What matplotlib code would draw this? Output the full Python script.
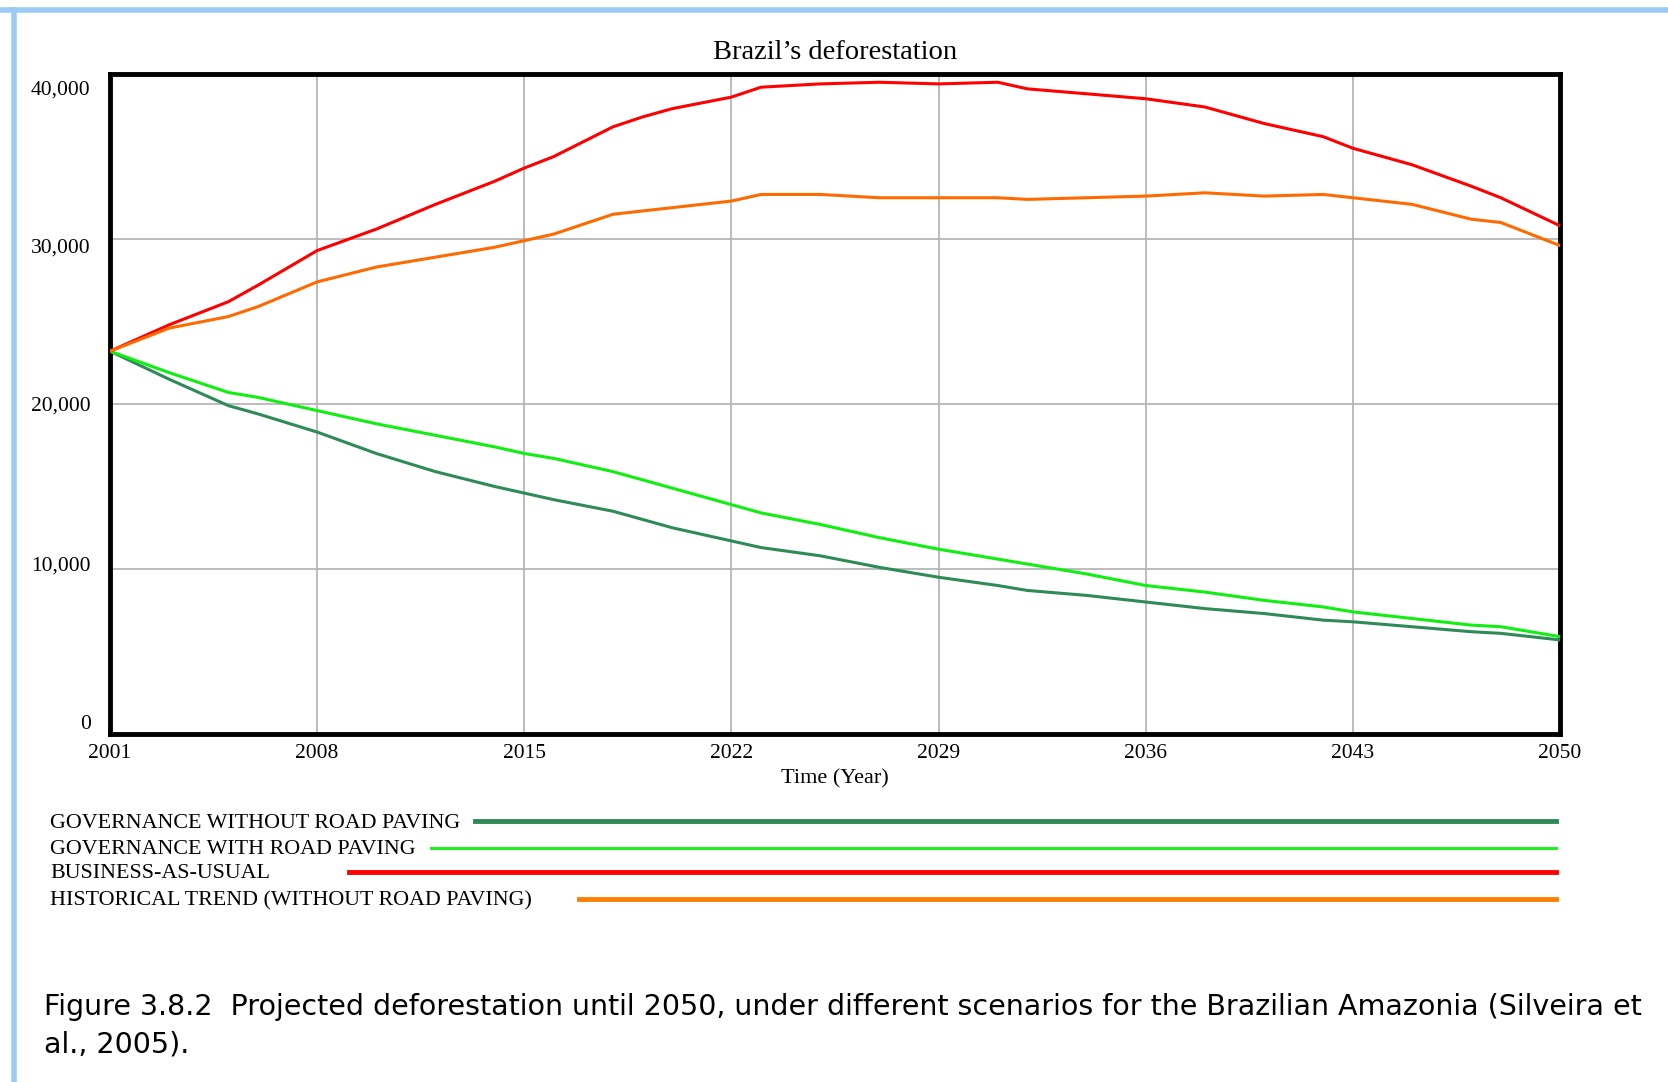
import numpy as np
import matplotlib
matplotlib.use("Agg")
import matplotlib.pyplot as plt
from matplotlib.lines import Line2D
from matplotlib.transforms import ScaledTranslation

years = [2001, 2003, 2005, 2006, 2008, 2010, 2012, 2014, 2015, 2016,
         2018, 2019, 2020, 2022, 2023, 2025, 2027, 2029, 2031, 2032,
         2034, 2036, 2038, 2040, 2042, 2043, 2045, 2047, 2048, 2050]

gov_no_paving = [23200, 21500, 19900, 19400, 18300, 17000, 15900, 15000, 14600, 14200,
                 13500, 13000, 12500, 11700, 11300, 10800, 10100, 9500, 9000, 8700,
                 8400, 8000, 7600, 7300, 6900, 6800, 6500, 6200, 6100, 5700]
gov_paving = [23200, 21900, 20700, 20400, 19600, 18800, 18100, 17400, 17000, 16700,
              15900, 15400, 14900, 13900, 13400, 12700, 11900, 11200, 10600, 10300,
              9700, 9000, 8600, 8100, 7700, 7400, 7000, 6600, 6500, 5900]
business_as_usual = [23200, 24800, 26200, 27200, 29300, 30600, 32100, 33500, 34300, 35000,
                     36800, 37400, 37900, 38600, 39200, 39400, 39500, 39400, 39500, 39100,
                     38800, 38500, 38000, 37000, 36200, 35500, 34500, 33200, 32500, 30800]
historical = [23200, 24600, 25300, 25900, 27400, 28300, 28900, 29500, 29900, 30300,
              31500, 31700, 31900, 32300, 32700, 32700, 32500, 32500, 32500, 32400,
              32500, 32600, 32800, 32600, 32700, 32500, 32100, 31200, 31000, 29600]

names = ["GOVERNANCE WITHOUT ROAD PAVING", "GOVERNANCE WITH ROAD PAVING",
         "BUSINESS-AS-USUAL", "HISTORICAL TREND (WITHOUT ROAD PAVING)"]
series = [gov_no_paving, gov_paving, business_as_usual, historical]
colors = ["#2e8b57", "#11ee11", "#ff0000", "#ff6a00"]
legend_colors = ["#2e8b57", "#22ee22", "#ff0000", "#ff8000"]

xticks = [2001, 2008, 2015, 2022, 2029, 2036, 2043, 2050]
yticks = [0, 10000, 20000, 30000, 40000]
ytick_labels = ["0", "10,000", "20,000", "30,000", "40,000"]

serif = ["Liberation Serif", "DejaVu Serif"]
sans = ["DejaVu Sans"]

W, H = 1668, 1082
fig = plt.figure(figsize=(W / 100, H / 100), dpi=100)

# page frame (light blue border of the screenshot)
fig.add_artist(Line2D([0, 1], [1 - 10 / H, 1 - 10 / H], color="#9ccaf5", lw=4))
fig.add_artist(Line2D([14 / W, 14 / W], [0, 1 - 10 / H], color="#9ccaf5", lw=4))

ax = fig.add_axes([110 / W, 1 - 734 / H, 1450 / W, 660 / H])
for s, c in zip(series, colors):
    ax.plot(years, s, color=c, lw=2.2, zorder=3)

ax.set_xlim(2001, 2050)
ax.set_ylim(0, 40000)
ax.set_xticks(xticks)
ax.set_xticklabels([str(x) for x in xticks], fontfamily=serif, fontsize=15.5)
ax.set_yticks(yticks)
ax.set_yticklabels(ytick_labels, fontfamily=serif, fontsize=15.5)
ax.tick_params(length=0)
ax.tick_params(axis="y", pad=14)
ax.tick_params(axis="x", pad=7)
ax.grid(True, color="#b0b0b0", lw=1.2)
for sp in ax.spines.values():
    sp.set_linewidth(3.5)
    sp.set_color("black")

# Vensim places its value labels a bit off the grid lines
offsets = [-12, -5, 0, 7, 14]
for lbl, dy in zip(ax.get_yticklabels(), offsets):
    lbl.set_transform(lbl.get_transform() + ScaledTranslation(0, -dy / 100, fig.dpi_scale_trans))

ax.set_title("Brazil\u2019s deforestation", fontfamily=serif, fontsize=20.5, pad=11)
ax.set_xlabel("Time (Year)", fontfamily=serif, fontsize=16, labelpad=5)

# legend below the chart
leg_y = [823, 850, 874, 901]
leg_x0 = [475, 431, 349, 579]
leg_lw = [3.5, 2.2, 3.5, 3.5]
for name, c, y, x0, lw in zip(names, legend_colors, leg_y, leg_x0, leg_lw):
    fig.text(50 / W, 1 - y / H, name, fontfamily=serif, fontsize=15.8,
             va="center", ha="left")
    fig.add_artist(Line2D([x0 / W, 1556 / W], [1 - (y - 2) / H, 1 - (y - 2) / H], color=c, lw=lw))

fig.text(44 / W, 1 - 1007 / H,
         "Figure 3.8.2  Projected deforestation until 2050, under different scenarios for the Brazilian Amazonia (Silveira et",
         fontfamily=sans, fontsize=20.5, va="center", ha="left")
fig.text(44 / W, 1 - 1044 / H, "al., 2005).",
         fontfamily=sans, fontsize=20.5, va="center", ha="left")

fig.savefig("out.png", dpi=100)
